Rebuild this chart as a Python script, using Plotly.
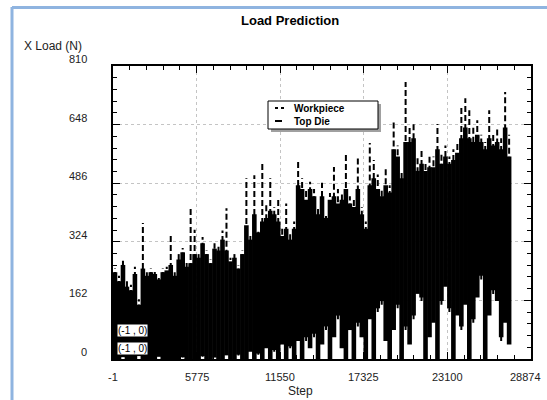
import plotly.graph_objects as go

# ---------------- data (per bin of 275 steps) ----------------
BIN_STEPS = 275
WORKPIECE_HI = [250, 230, 280, 215, 205, 255, 165, 376, 240, 250,
                245, 230, 250, 255, 348, 240, 290, 307, 270, 417,
                357, 290, 337, 300, 275, 320, 310, 355, 417, 280,
                290, 260, 300, 500, 340, 508, 360, 541, 426, 500,
                420, 440, 360, 430, 350, 380, 550, 500, 470, 490,
                470, 420, 487, 400, 459, 531, 470, 460, 570, 450,
                440, 556, 420, 380, 597, 550, 510, 470, 525, 480,
                655, 590, 520, 766, 640, 650, 560, 580, 540, 560,
                560, 650, 570, 590, 560, 580, 600, 697, 721, 688,
                640, 660, 620, 600, 688, 620, 640, 610, 738, 620]
WORKPIECE_LO = [0, 0, 6, 0, 0, 0, 10, 0, 0, 0,
                0, 8, 0, 0, 0, 0, 0, 4, 0, 0,
                0, 0, 6, 0, 0, 6, 0, 0, 12, 0,
                0, 10, 0, 0, 25, 0, 12, 0, 35, 0,
                20, 0, 45, 0, 30, 0, 55, 0, 50, 35,
                60, 0, 50, 80, 0, 70, 110, 40, 0, 90,
                0, 90, 70, 0, 120, 0, 130, 150, 60, 0,
                90, 140, 0, 80, 50, 110, 190, 160, 0, 70,
                110, 0, 150, 210, 130, 0, 130, 80, 160, 0,
                100, 180, 220, 0, 130, 180, 170, 50, 110, 45]
TOPDIE_HI = [240, 215, 260, 200, 190, 235, 150, 250, 230, 240,
             235, 220, 240, 245, 260, 230, 275, 295, 255, 265,
             290, 280, 320, 290, 265, 305, 300, 330, 300, 270,
             280, 250, 290, 370, 330, 400, 350, 380, 390, 410,
             400, 380, 340, 360, 330, 360, 480, 470, 440, 470,
             450, 400, 450, 390, 440, 450, 430, 440, 470, 430,
             420, 470, 400, 360, 480, 500, 470, 450, 480, 460,
             580, 560, 500, 600, 600, 610, 520, 540, 520, 530,
             530, 580, 540, 560, 540, 550, 570, 610, 640, 610,
             600, 620, 600, 580, 610, 590, 600, 580, 640, 560]
TOPDIE_LO = [0, 0, 5, 0, 0, 0, 8, 0, 0, 0,
             0, 6, 0, 0, 0, 0, 0, 5, 0, 0,
             0, 0, 8, 0, 0, 4, 0, 0, 10, 0,
             0, 12, 0, 0, 20, 0, 15, 0, 30, 0,
             25, 0, 40, 0, 35, 0, 50, 0, 60, 30,
             70, 0, 40, 90, 0, 60, 120, 30, 0, 80,
             0, 100, 60, 0, 110, 0, 140, 160, 50, 0,
             80, 150, 0, 90, 40, 120, 180, 170, 0, 60,
             100, 0, 160, 200, 140, 0, 120, 90, 150, 0,
             110, 170, 230, 0, 120, 190, 160, 60, 100, 40]

X_TICKS = [-1, 5775, 11550, 17325, 23100, 28874]
Y_TICKS = [0, 162, 324, 486, 648, 810]
MARK_LABELS = ["(-1 , 0)", "(-1 , 0)"]

# ---------------- geometry (page pixels) ----------------
W, H = 547, 400
L, R, T, B = 113, 531, 66, 359


def px(x):
    return (x - L) / (R - L)


def py(y):
    return (B - y) / (B - T)


def segments(lo, hi):
    xs, ys = [], []
    for i, (a, b) in enumerate(zip(lo, hi)):
        s = (i + 0.5) * BIN_STEPS
        xs += [s, s, None]
        ys += [a, b, None]
    return xs, ys


fig = go.Figure()
tx, ty = segments(TOPDIE_LO, TOPDIE_HI)
fig.add_trace(go.Scatter(x=tx, y=ty, mode="lines", name="Top Die",
                         line=dict(color="black", width=4.6), showlegend=False,
                         hoverinfo="skip"))
wx, wy = segments(WORKPIECE_LO, WORKPIECE_HI)
fig.add_trace(go.Scatter(x=wx, y=wy, mode="lines", name="Workpiece",
                         line=dict(color="black", width=2, dash="6px,3px"), showlegend=False,
                         hoverinfo="skip"))


def minors(ticks):
    out = []
    for a, b in zip(ticks[:-1], ticks[1:]):
        for k in range(1, 5):
            out.append(a + (b - a) * k / 5)
    return out


axis_common = dict(showline=True, linecolor="black", linewidth=2, mirror="ticks",
                   ticks="inside", ticklen=7, tickwidth=1, tickcolor="black",
                   showgrid=True, gridcolor="#c4c4c4", griddash="dot", gridwidth=1,
                   showticklabels=False, zeroline=False, tickmode="array")

fig.update_xaxes(range=[X_TICKS[0], X_TICKS[-1]], tickvals=X_TICKS,
                 minor=dict(tickvals=minors(X_TICKS), ticks="inside", ticklen=4,
                            tickcolor="black", showgrid=False),
                 **axis_common)
fig.update_yaxes(range=[Y_TICKS[0], Y_TICKS[-1]], tickvals=Y_TICKS,
                 minor=dict(tickvals=minors(Y_TICKS), ticks="inside", ticklen=4,
                            tickcolor="black", showgrid=False),
                 **axis_common)

ann = []
FONT = "Liberation Sans, Arial, sans-serif"
for v in Y_TICKS:
    ann.append(dict(x=px(89), xref="paper", xanchor="right", y=v, yref="y",
                    yanchor="middle", yshift=7, text=str(v), showarrow=False,
                    font=dict(family=FONT, size=11, color="#222")))
for i, v in enumerate(X_TICKS):
    last = i == len(X_TICKS) - 1
    ann.append(dict(x=px(543) if last else v, xref="paper" if last else "x",
                    xanchor="right" if last else "center", y=0, yref="paper",
                    yanchor="middle", yshift=-18, text=str(v), showarrow=False,
                    font=dict(family=FONT, size=11, color="#222")))
ann.append(dict(x=px(290), xref="paper", y=py(20), yref="paper", text="<b>Load Prediction</b>",
                showarrow=False, xanchor="center", yanchor="middle",
                font=dict(family=FONT, size=13, color="black")))
ann.append(dict(x=px(22), xref="paper", y=py(46), yref="paper", text="X Load (N)",
                showarrow=False, xanchor="left", yanchor="middle",
                font=dict(family=FONT, size=12, color="#222")))
ann.append(dict(x=px(300), xref="paper", y=py(391), yref="paper", text="Step",
                showarrow=False, xanchor="center", yanchor="middle",
                font=dict(family=FONT, size=12, color="#222")))
ann.append(dict(x=px(292), xref="paper", y=py(108), yref="paper", text="<b>Workpiece</b>",
                showarrow=False, xanchor="left", yanchor="middle",
                font=dict(family=FONT, size=10, color="black")))
ann.append(dict(x=px(292), xref="paper", y=py(121), yref="paper", text="<b>Top Die</b>",
                showarrow=False, xanchor="left", yanchor="middle",
                font=dict(family=FONT, size=10, color="black")))
for lab, yc in zip(MARK_LABELS, [330, 348]):
    ann.append(dict(x=px(117), xref="paper", y=py(yc), yref="paper", text=lab,
                    showarrow=False, xanchor="left", yanchor="middle",
                    bgcolor="white", borderpad=0,
                    font=dict(family=FONT, size=10, color="black")))

shapes = [
    # light blue frame
    dict(type="line", xref="paper", yref="paper", x0=px(12), x1=px(12), y0=py(7), y1=py(400),
         line=dict(color="#8fb4e0", width=3)),
    dict(type="line", xref="paper", yref="paper", x0=px(12), x1=px(547), y0=py(7.5), y1=py(7.5),
         line=dict(color="#8fb4e0", width=3)),
    # legend shadow and box
    dict(type="rect", xref="paper", yref="paper", x0=px(271), x1=px(381), y0=py(104), y1=py(132),
         fillcolor="#a0a0a0", line=dict(width=0)),
    dict(type="rect", xref="paper", yref="paper", x0=px(268), x1=px(378), y0=py(101), y1=py(129),
         fillcolor="white", line=dict(color="black", width=1)),
    dict(type="line", xref="paper", yref="paper", x0=px(275), x1=px(286), y0=py(108), y1=py(108),
         line=dict(color="black", width=2, dash="3px,3px")),
    dict(type="line", xref="paper", yref="paper", x0=px(275), x1=px(282), y0=py(121), y1=py(121),
         line=dict(color="black", width=2)),
]

fig.update_layout(width=W, height=H,
                  margin=dict(l=L, r=W - R, t=T, b=H - B),
                  paper_bgcolor="white", plot_bgcolor="white",
                  annotations=ann, shapes=shapes, showlegend=False)

fig.write_html("out.html", config={"displayModeBar": False},
               post_script="document.body.style.margin='0';document.body.style.overflow='hidden';")
